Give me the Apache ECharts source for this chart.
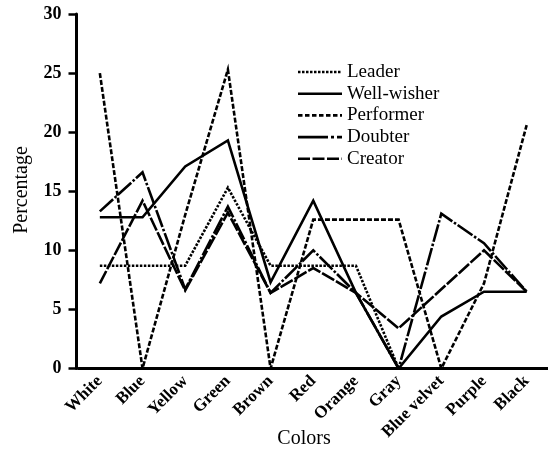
<!DOCTYPE html>
<html>
<head>
<meta charset="utf-8">
<script src="https://cdn.jsdelivr.net/npm/echarts@6/dist/echarts.min.js"></script>
<style>
  html, body { margin: 0; padding: 0; background: #fff; }
  #chart { width: 548px; height: 453px; }
</style>
</head>
<body>
<div id="chart"></div>
<script>
// Colour preference (%) for each personality type
const colors = ['White', 'Blue', 'Yellow', 'Green', 'Brown', 'Red', 'Orange', 'Gray', 'Blue velvet', 'Purple', 'Black'];
const leader     = [8.7, 8.7, 8.7, 15.3, 8.7, 8.7, 8.7, 0, 0, 0, 0];
const wellWisher = [12.8, 12.8, 17.1, 19.3, 7.3, 14.2, 6.4, 0, 4.4, 6.5, 6.5];
const performer  = [25, 0, 13, 25.3, 0, 12.6, 12.6, 12.6, 0, 7.2, 20.6];
const doubter    = [13.3, 16.6, 6.7, 13.7, 6.4, 10.0, 6.4, 0, 13.1, 10.6, 6.5];
const creator    = [7.2, 14.2, 6.6, 13.2, 6.4, 8.5, 6.4, 3.4, 6.7, 10.0, 6.5];
const yTicks = [0, 5, 10, 15, 20, 25, 30];

const serif = "'Liberation Serif', 'Times New Roman', serif";

// name, values, dash used in the plot, dash used for the key sample
const groups = [
  { name: 'Leader',      data: leader,     dash: [2.5, 1.5],      key: [2.5, 1.5] },
  { name: 'Well-wisher', data: wellWisher, dash: null,            key: null },
  { name: 'Performer',   data: performer,  dash: [5, 2],          key: [4.5, 2.5] },
  { name: 'Doubter',     data: doubter,    dash: [18, 2, 2.5, 2], key: [30, 3, 3, 3] },
  { name: 'Creator',     data: creator,    dash: [14, 2],         key: [12, 2.5] }
];

const series = groups.map(g => ({
  name: g.name,
  type: 'line',
  data: g.data,
  symbol: 'none',
  showSymbol: false,
  silent: true,
  lineStyle: { color: '#000', width: 2.6, type: g.dash || 'solid', cap: 'butt', join: 'miter' }
}));

// Hand-drawn key (line sample + label per group)
const keyLeft = 298, keyLen = 44, keyTop = 72, keyStep = 21.7;
const keyItems = [];
groups.forEach((g, i) => {
  const y = keyTop + i * keyStep;
  keyItems.push({
    type: 'line',
    silent: true,
    shape: { x1: keyLeft, y1: y, x2: keyLeft + keyLen, y2: y },
    style: { stroke: '#000', lineWidth: 2.6, lineDash: g.key, lineCap: 'butt' }
  });
  keyItems.push({
    type: 'text',
    silent: true,
    x: keyLeft + keyLen + 5, y: y,
    style: { text: g.name, font: '19px ' + serif, fill: '#000', align: 'left', verticalAlign: 'middle' }
  });
});

const chart = echarts.init(document.getElementById('chart'), null, { renderer: 'canvas' });
chart.setOption({
  animation: false,
  backgroundColor: '#fff',
  grid: { left: 78.5, top: 14, width: 473, bottom: 84.5, containLabel: false },
  xAxis: {
    type: 'category',
    data: colors,
    boundaryGap: true,
    axisLine: { lineStyle: { color: '#000', width: 3 } },
    axisTick: { alignWithLabel: true, length: 7, lineStyle: { color: '#000', width: 2.5 } },
    axisLabel: {
      interval: 0,
      rotate: 45,
      margin: 10,
      fontFamily: serif,
      fontSize: 17,
      fontWeight: 'bold',
      color: '#000'
    },
    splitLine: { show: false }
  },
  yAxis: {
    type: 'value',
    min: yTicks[0],
    max: yTicks[yTicks.length - 1],
    interval: yTicks[1] - yTicks[0],
    offset: 2,
    axisLine: { show: true, lineStyle: { color: '#000', width: 3 } },
    axisTick: { show: true, length: 8, lineStyle: { color: '#000', width: 2.5 } },
    axisLabel: { margin: 15, fontFamily: serif, fontSize: 18, fontWeight: 'bold', color: '#000' },
    splitLine: { show: false }
  },
  graphic: [
    {
      type: 'text',
      silent: true,
      x: 304, y: 439,
      style: { text: 'Colors', font: '20px ' + serif, fill: '#000', align: 'center', verticalAlign: 'middle' }
    },
    {
      type: 'text',
      silent: true,
      x: 22, y: 190,
      rotation: Math.PI / 2,
      style: { text: 'Percentage', font: '20px ' + serif, fill: '#000', align: 'center', verticalAlign: 'middle' }
    }
  ].concat(keyItems),
  series: series
});
</script>
</body>
</html>
